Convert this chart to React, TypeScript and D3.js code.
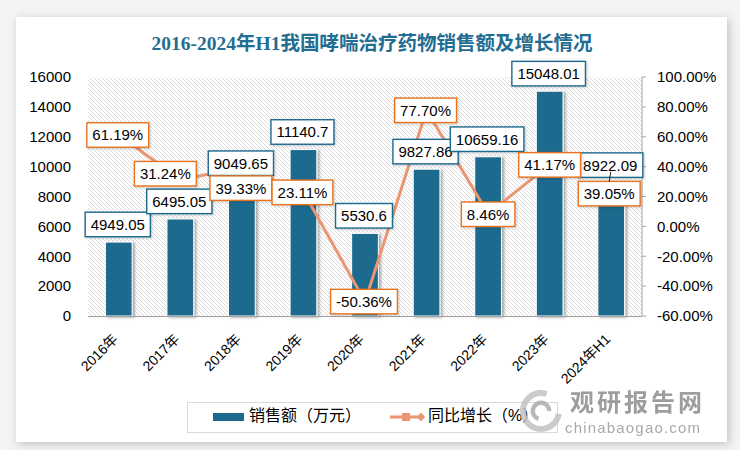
import React, { useEffect, useRef } from 'react';
import * as d3 from 'd3';

const categories = ['2016年', '2017年', '2018年', '2019年', '2020年', '2021年', '2022年', '2023年', '2024年H1'];
const salesValues = [4949.05, 6495.05, 9049.65, 11140.7, 5530.6, 9827.86, 10659.16, 15048.01, 8922.09];
const salesLabels = ['4949.05', '6495.05', '9049.65', '11140.7', '5530.6', '9827.86', '10659.16', '15048.01', '8922.09'];
const growthValues = [61.19, 31.24, 39.33, 23.11, -50.36, 77.7, 8.46, 41.17, 39.05];
const growthLabels = ['61.19%', '31.24%', '39.33%', '23.11%', '-50.36%', '77.70%', '8.46%', '41.17%', '39.05%'];
const salesTicks = [0, 2000, 4000, 6000, 8000, 10000, 12000, 14000, 16000];
const growthTicks = [-60, -40, -20, 0, 20, 40, 60, 80, 100];
const growthTickLabels = ['-60.00%', '-40.00%', '-20.00%', '0.00%', '20.00%', '40.00%', '60.00%', '80.00%', '100.00%'];
// manual label nudges (px) for the growth labels, as placed in the original
const growthLabelShift: [number, number][] = [[-1, 0], [-15, -6], [-1, 20.5], [-1, 0.5], [-1, 0], [-1, 0], [0, 0.5], [0, 0], [-2, 25.6]];

const FONT = '"Liberation Sans", "Noto Sans CJK SC", sans-serif';
const BLUE = '#1d6a8e';
const ORANGE_LINE = '#eb9672';
const ORANGE_BOX = '#e8731f';

export default function App() {
  const ref = useRef<SVGSVGElement>(null);

  useEffect(() => {
    const svg = d3.select(ref.current);
    svg.selectAll('*').remove();

    const px0 = 88, px1 = 642, py0 = 77, py1 = 316;

    const defs = svg.append('defs');
    const pat = defs.append('pattern').attr('id', 'hatch').attr('patternUnits', 'userSpaceOnUse')
      .attr('width', 4).attr('height', 4);
    pat.append('rect').attr('width', 4).attr('height', 4).attr('fill', '#ffffff');
    pat.append('path').attr('d', 'M-1,-1 L5,5 M3,-1 L5,1 M-1,3 L1,5')
      .attr('stroke', '#dcdcdc').attr('stroke-width', 1);

    const f1 = defs.append('filter').attr('id', 'cardShadow').attr('x', '-5%').attr('y', '-5%').attr('width', '110%').attr('height', '110%');
    f1.append('feDropShadow').attr('dx', 2).attr('dy', 2).attr('stdDeviation', 5).attr('flood-color', '#000').attr('flood-opacity', 0.22);
    const f2 = defs.append('filter').attr('id', 'barShadow').attr('x', '-40%').attr('y', '-10%').attr('width', '180%').attr('height', '120%');
    f2.append('feDropShadow').attr('dx', 2).attr('dy', 1).attr('stdDeviation', 1.6).attr('flood-color', '#000').attr('flood-opacity', 0.35);
    const f3 = defs.append('filter').attr('id', 'labelShadow').attr('x', '-20%').attr('y', '-30%').attr('width', '140%').attr('height', '160%');
    f3.append('feDropShadow').attr('dx', 1).attr('dy', 1).attr('stdDeviation', 1).attr('flood-color', '#000').attr('flood-opacity', 0.2);

    // page + card
    svg.append('rect').attr('width', 740).attr('height', 450).attr('fill', '#f4f4f4');
    svg.append('rect').attr('x', 16).attr('y', 17).attr('width', 711).attr('height', 425)
      .attr('fill', '#ffffff').attr('filter', 'url(#cardShadow)');

    // title
    svg.append('text').attr('x', 372).attr('y', 50).attr('text-anchor', 'middle')
      .attr('font-family', '"Liberation Serif", "Noto Sans CJK SC", serif')
      .attr('font-weight', 'bold').attr('font-size', 19.5).attr('fill', '#236d92')
      .text('2016-2024年H1我国哮喘治疗药物销售额及增长情况');

    const x = d3.scaleBand<string>().domain(categories).range([px0, px1]).paddingInner(0.566).paddingOuter(0.283);
    const ySales = d3.scaleLinear().domain([0, 16000]).range([py1, py0]);
    const yPct = d3.scaleLinear().domain([-60, 100]).range([py1, py0]);
    const cx = (c: string) => (x(c) as number) + x.bandwidth() / 2;

    // plot area hatch
    svg.append('rect').attr('x', px0).attr('y', py0).attr('width', px1 - px0).attr('height', py1 - py0)
      .attr('fill', 'url(#hatch)');

    // left axis labels
    const gl = svg.append('g').attr('font-family', FONT).attr('font-size', 15).attr('fill', '#000');
    gl.selectAll('text').data(salesTicks).join('text')
      .attr('x', 71).attr('y', d => ySales(d)).attr('dy', '0.35em').attr('text-anchor', 'end')
      .text(d => String(d));

    // right axis
    const gr = svg.append('g');
    gr.append('line').attr('x1', px1).attr('x2', px1).attr('y1', py0).attr('y2', py1)
      .attr('stroke', '#a6a6a6').attr('stroke-width', 1);
    gr.selectAll('line.tick').data(growthTicks).join('line').attr('class', 'tick')
      .attr('x1', px1).attr('x2', px1 + 4).attr('y1', d => yPct(d)).attr('y2', d => yPct(d))
      .attr('stroke', '#a6a6a6');
    gr.selectAll('text').data(growthTicks).join('text')
      .attr('x', 657).attr('y', d => yPct(d)).attr('dy', '0.35em')
      .attr('font-family', FONT).attr('font-size', 15).attr('fill', '#000')
      .text((d, i) => growthTickLabels[i]);

    // bars
    svg.append('g').selectAll('rect').data(salesValues).join('rect')
      .attr('x', (d, i) => x(categories[i]) as number)
      .attr('y', d => ySales(d))
      .attr('width', x.bandwidth())
      .attr('height', d => py1 - ySales(d))
      .attr('fill', BLUE).attr('stroke', '#ffffff').attr('stroke-width', 1)
      .attr('filter', 'url(#barShadow)');

    // bottom axis line
    svg.append('line').attr('x1', px0).attr('x2', px1).attr('y1', py1 + 0.5).attr('y2', py1 + 0.5)
      .attr('stroke', '#a0a0a0').attr('stroke-width', 1);

    // x labels
    svg.append('g').selectAll('text').data(categories).join('text')
      .attr('transform', d => `translate(${cx(d)},340) rotate(-45)`)
      .attr('text-anchor', 'end').attr('font-family', FONT).attr('font-size', 14).attr('fill', '#000')
      .text(d => d);

    // growth line
    const line = d3.line<number>().x((d, i) => cx(categories[i])).y(d => yPct(d));
    svg.append('path').attr('d', line(growthValues) as string).attr('fill', 'none')
      .attr('stroke', ORANGE_LINE).attr('stroke-width', 3).attr('stroke-linejoin', 'round');

    // labels
    const drawLabel = (g: any, cxp: number, cyp: number, txt: string, color: string) => {
      const grp = g.append('g');
      const rect = grp.append('rect');
      const t = grp.append('text').attr('x', cxp).attr('y', cyp).attr('dy', '0.36em').attr('text-anchor', 'middle')
        .attr('font-family', FONT).attr('font-size', 15).attr('fill', '#000').text(txt);
      const w = (t.node() as SVGTextElement).getComputedTextLength() + 11;
      const h = 24.5;
      rect.attr('x', cxp - w / 2).attr('y', cyp - h / 2).attr('width', w).attr('height', h)
        .attr('fill', '#ffffff').attr('stroke', color).attr('stroke-width', 1.4)
        .attr('filter', 'url(#labelShadow)');
    };
    const lg = svg.append('g');
    const li = 8;
    svg.append('line').attr('x1', cx(categories[li]) - 0.5).attr('y1', ySales(salesValues[li]) - 11)
      .attr('x2', cx(categories[li]) - 2).attr('y2', yPct(growthValues[li]) + growthLabelShift[li][1] - 12)
      .attr('stroke', '#222').attr('stroke-width', 1);
    salesValues.forEach((v, i) => drawLabel(lg, cx(categories[i]) - 1, ySales(v) - 17.6, salesLabels[i], BLUE));
    growthValues.forEach((v, i) => drawLabel(lg, cx(categories[i]) + growthLabelShift[i][0], yPct(v) + growthLabelShift[i][1], growthLabels[i], ORANGE_BOX));

    // legend
    const leg = svg.append('g');
    leg.append('rect').attr('x', 187.5).attr('y', 402.5).attr('width', 370).attr('height', 30)
      .attr('fill', '#ffffff').attr('stroke', '#d9d9d9').attr('stroke-width', 1);
    leg.append('rect').attr('x', 213).attr('y', 413).attr('width', 31).attr('height', 8).attr('fill', BLUE);
    leg.append('text').attr('x', 249).attr('y', 421).attr('font-family', FONT).attr('font-size', 16).attr('fill', '#000')
      .text('销售额（万元）');
    leg.append('line').attr('x1', 390).attr('x2', 424).attr('y1', 417).attr('y2', 417)
      .attr('stroke', ORANGE_LINE).attr('stroke-width', 3);
    leg.append('rect').attr('x', 402).attr('y', 413).attr('width', 8).attr('height', 8).attr('fill', ORANGE_LINE);
    leg.append('path').attr('d', 'M421,412.5 L425,417 L421,421.5 L417,417 Z').attr('fill', ORANGE_LINE);
    leg.append('text').attr('x', 428).attr('y', 421).attr('font-family', FONT).attr('font-size', 16).attr('fill', '#000')
      .text('同比增长（%）');

    // watermark
    const wm = svg.append('g').attr('opacity', 0.85);
    const arc = d3.arc();
    wm.append('path').attr('transform', 'translate(541,411)')
      .attr('d', arc({ innerRadius: 15, outerRadius: 21, startAngle: Math.PI * 0.55, endAngle: Math.PI * 2.1 }) as string)
      .attr('fill', '#c2c2c2');
    wm.append('path').attr('transform', 'translate(541,411)')
      .attr('d', arc({ innerRadius: 6, outerRadius: 10.5, startAngle: Math.PI * 1.1, endAngle: Math.PI * 2.5 }) as string)
      .attr('fill', '#adadad');
    wm.append('text').attr('x', 570).attr('y', 411).attr('font-family', '"Noto Sans CJK SC", sans-serif')
      .attr('font-weight', 'bold').attr('font-size', 24).attr('fill', '#8c8c8c').attr('textLength', 132)
      .text('观研报告网');
    wm.append('text').attr('x', 565).attr('y', 433).attr('font-family', FONT)
      .attr('font-size', 15).attr('fill', '#9a9a9a').attr('textLength', 135)
      .text('chinabaogao.com');
  }, []);

  return <svg ref={ref} width={740} height={450} style={{ position: 'absolute', left: 0, top: 0 }} />;
}
